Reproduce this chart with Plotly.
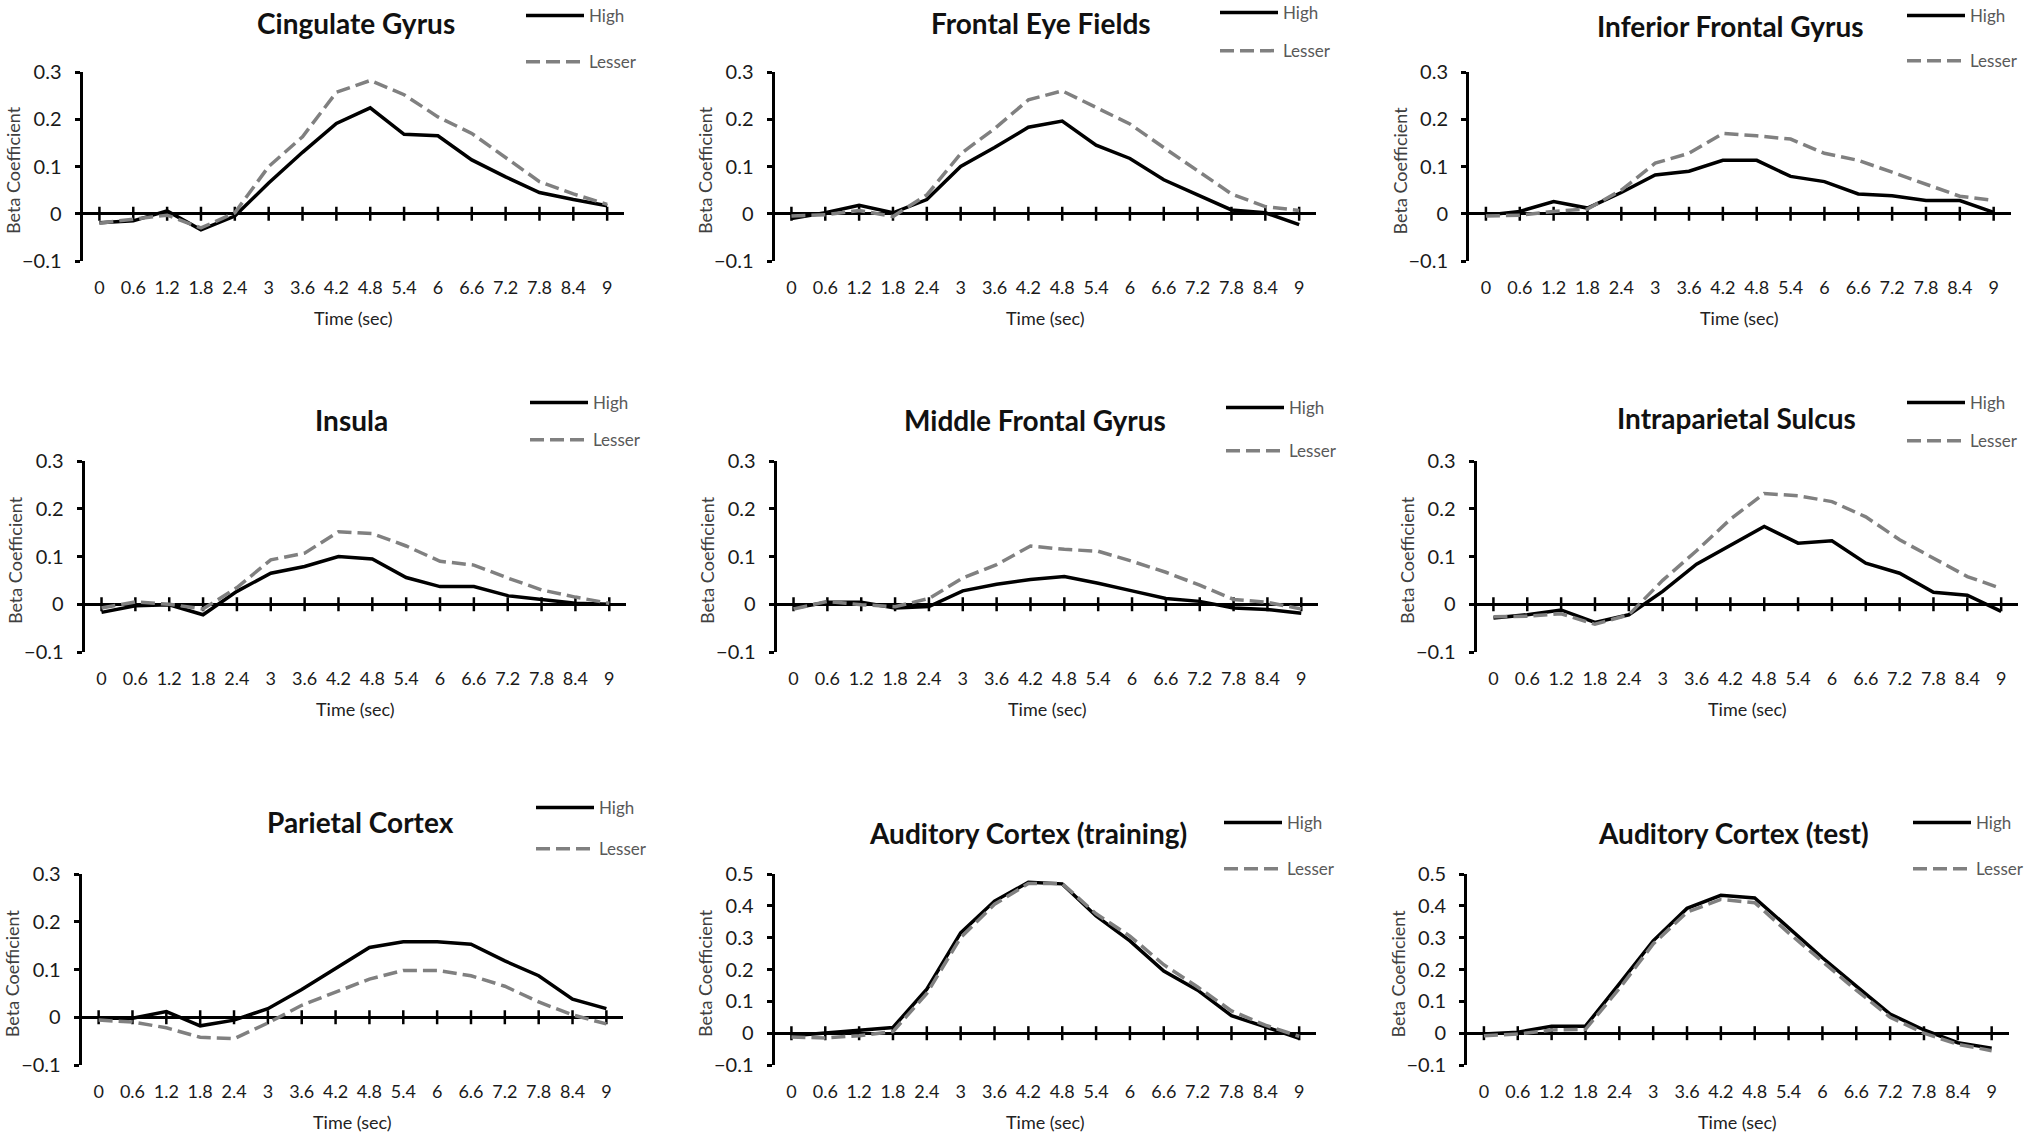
import plotly.graph_objects as go

W, H = 2029, 1135
FONT = "Lato"

# ---------------- data ----------------
times = [0, 0.6, 1.2, 1.8, 2.4, 3, 3.6, 4.2, 4.8, 5.4, 6, 6.6, 7.2, 7.8, 8.4, 9]
time_labels = ["0", "0.6", "1.2", "1.8", "2.4", "3", "3.6", "4.2", "4.8",
               "5.4", "6", "6.6", "7.2", "7.8", "8.4", "9"]
series_names = ["High", "Lesser"]

titles = ["Cingulate Gyrus", "Frontal Eye Fields", "Inferior Frontal Gyrus",
          "Insula", "Middle Frontal Gyrus", "Intraparietal Sulcus",
          "Parietal Cortex", "Auditory Cortex (training)", "Auditory Cortex (test)"]

high_cingulate = [-0.019, -0.015, 0.006, -0.034, -0.005, 0.065, 0.13, 0.191, 0.224,
                  0.168, 0.165, 0.114, 0.078, 0.045, 0.03, 0.017]
lesser_cingulate = [-0.02, -0.012, -0.003, -0.03, 0.002, 0.1, 0.163, 0.257, 0.282,
                    0.252, 0.205, 0.17, 0.118, 0.068, 0.042, 0.02]

high_fef = [-0.01, 0.002, 0.018, 0.002, 0.03, 0.1, 0.14, 0.183, 0.196,
            0.145, 0.117, 0.072, 0.04, 0.008, 0.002, -0.023]
lesser_fef = [-0.005, -0.002, 0.007, -0.006, 0.04, 0.127, 0.18, 0.241, 0.26,
              0.225, 0.19, 0.14, 0.09, 0.042, 0.015, 0.007]

high_ifg = [-0.003, 0.005, 0.026, 0.012, 0.045, 0.082, 0.09, 0.113, 0.113,
            0.079, 0.068, 0.042, 0.038, 0.028, 0.028, 0.003]
lesser_ifg = [-0.005, -0.003, 0.005, 0.01, 0.05, 0.107, 0.128, 0.17, 0.165,
              0.158, 0.128, 0.113, 0.088, 0.062, 0.037, 0.028]

high_insula = [-0.017, -0.003, -0.001, -0.022, 0.027, 0.065, 0.079, 0.1, 0.095,
               0.056, 0.037, 0.037, 0.018, 0.01, 0.002, 0.0]
lesser_insula = [-0.008, 0.005, 0.0, -0.01, 0.035, 0.093, 0.107, 0.152, 0.148,
                 0.122, 0.09, 0.082, 0.055, 0.03, 0.015, 0.002]

high_mfg = [-0.008, 0.004, 0.004, -0.008, -0.005, 0.028, 0.042, 0.052, 0.058,
            0.044, 0.028, 0.012, 0.006, -0.008, -0.011, -0.019]
lesser_mfg = [-0.01, 0.006, -0.001, -0.005, 0.012, 0.055, 0.083, 0.122, 0.115,
              0.111, 0.09, 0.067, 0.04, 0.01, 0.004, -0.01]

high_ips = [-0.029, -0.022, -0.012, -0.038, -0.022, 0.027, 0.084, 0.123, 0.163,
            0.128, 0.133, 0.086, 0.065, 0.025, 0.019, -0.015]
lesser_ips = [-0.026, -0.025, -0.02, -0.042, -0.022, 0.05, 0.112, 0.178, 0.232,
              0.227, 0.215, 0.183, 0.135, 0.097, 0.058, 0.033]

high_parietal = [-0.002, -0.002, 0.012, -0.018, -0.006, 0.018, 0.058, 0.102, 0.146,
                 0.158, 0.158, 0.153, 0.118, 0.087, 0.038, 0.018]
lesser_parietal = [-0.006, -0.01, -0.022, -0.042, -0.045, -0.012, 0.025, 0.052, 0.08,
                   0.098, 0.098, 0.087, 0.065, 0.032, 0.005, -0.014]

high_aud_train = [-0.008, 0.0, 0.01, 0.018, 0.138, 0.315, 0.415, 0.474, 0.469,
                  0.368, 0.29, 0.195, 0.135, 0.055, 0.02, -0.016]
lesser_aud_train = [-0.012, -0.015, -0.008, 0.005, 0.125, 0.3, 0.405, 0.47, 0.47,
                    0.375, 0.305, 0.215, 0.145, 0.07, 0.025, -0.01]

high_aud_test = [-0.003, 0.003, 0.022, 0.022, 0.155, 0.29, 0.392, 0.433, 0.425,
                 0.33, 0.237, 0.148, 0.06, 0.01, -0.03, -0.047]
lesser_aud_test = [-0.008, -0.003, 0.01, 0.012, 0.14, 0.28, 0.38, 0.42, 0.41,
                   0.315, 0.225, 0.135, 0.05, 0.0, -0.035, -0.055]

high_series = [high_cingulate, high_fef, high_ifg, high_insula, high_mfg, high_ips,
               high_parietal, high_aud_train, high_aud_test]
lesser_series = [lesser_cingulate, lesser_fef, lesser_ifg, lesser_insula, lesser_mfg,
                 lesser_ips, lesser_parietal, lesser_aud_train, lesser_aud_test]
y_max = [0.3, 0.3, 0.3, 0.3, 0.3, 0.3, 0.3, 0.5, 0.5]
y_min = -0.1

# ---------------- layout geometry (pixels) ----------------
PLOT_W = 541.6
panel_left = [82.5, 774.5, 1469, 84.6, 776.6, 1476.5, 81.7, 774.5, 1467]
row_top = [72, 461, 874]
row_bot = [261, 652, 1065]
title_pos = [(356, 23), (1041, 23), (1730, 26), (351, 420), (1035, 420), (1736, 418),
             (360, 822), (1028, 833), (1733, 833)]
legend_pos = [(527, 15, 63), (1221, 12, 52), (1908, 15, 62), (531, 402, 441),
              (1227, 407, 452), (1908, 402, 442), (537, 807, 850), (1225, 822, 870),
              (1914, 822, 870)]

HIGH_COLOR = "#000000"
LESSER_COLOR = "#808080"

fig = go.Figure()
layout = dict(width=W, height=H,
              margin=dict(l=0, r=0, t=0, b=0, pad=0, autoexpand=False),
              paper_bgcolor="white", plot_bgcolor="white", showlegend=True,
              font=dict(family=FONT, color="#222222"))
annotations = []


def px(x):
    return x / W


def py(y):
    return 1 - y / H


for i in range(9):
    n = i + 1
    sfx = "" if n == 1 else str(n)
    xa, ya = "x" + sfx, "y" + sfx
    leg = "legend" + sfx
    row = i // 3
    l = panel_left[i]
    t, b = row_top[row], row_bot[row]

    # tick marks crossing the zero line
    fig.add_trace(go.Scatter(
        x=times, y=[0] * len(times), xaxis=xa, yaxis=ya, mode="markers",
        marker=dict(symbol="line-ns", size=10, line=dict(width=2.5, color="black")),
        showlegend=False, hoverinfo="skip", legend=leg, legendgroup="z"))
    fig.add_trace(go.Scatter(
        x=times, y=high_series[i], xaxis=xa, yaxis=ya, mode="lines",
        name=series_names[0], legend=leg, legendgroup="h",
        line=dict(color=HIGH_COLOR, width=3.5)))
    fig.add_trace(go.Scatter(
        x=times, y=lesser_series[i], xaxis=xa, yaxis=ya, mode="lines",
        name=series_names[1], legend=leg, legendgroup="l",
        line=dict(color=LESSER_COLOR, width=3.5, dash="14px,6px")))

    layout["xaxis" + sfx] = dict(
        domain=[px(l), px(l + PLOT_W)], anchor=ya, range=[-0.3, 9.3],
        tickmode="array", tickvals=times, ticktext=time_labels,
        showgrid=False, zeroline=False, showline=False, ticks="",
        ticklabelstandoff=14, tickfont=dict(family=FONT, size=18, color="#1a1a1a"),
        fixedrange=True)
    layout["yaxis" + sfx] = dict(
        domain=[py(b), py(t)], anchor=xa, range=[y_min, y_max[i]],
        tick0=0, dtick=0.1, showgrid=False,
        showline=True, linewidth=3, linecolor="black",
        ticks="outside", ticklen=5, tickwidth=2.5, tickcolor="black",
        zeroline=True, zerolinewidth=3, zerolinecolor="black",
        ticklabelstandoff=9, tickfont=dict(family=FONT, size=20, color="#1a1a1a"),
        fixedrange=True)

    lx, hy, ly = legend_pos[i]
    layout[leg] = dict(
        x=px(lx - 6), y=py(hy - 17), xanchor="left", yanchor="top",
        bgcolor="rgba(0,0,0,0)", borderwidth=0, itemwidth=58,
        tracegroupgap=max(ly - hy - 27, 0), traceorder="grouped",
        font=dict(family=FONT, size=17, color="#595959"))

    tx, ty = title_pos[i]
    annotations.append(dict(
        text="<b>" + titles[i] + "</b>", x=px(tx), y=py(ty), xref="paper", yref="paper",
        xanchor="center", yanchor="middle", showarrow=False,
        font=dict(family=FONT, size=28, color="#111111")))
    annotations.append(dict(
        text="Beta Coefficient", x=px(l - 70), y=py((t + b) / 2 + 4), xref="paper",
        yref="paper", xanchor="center", yanchor="middle", textangle=-90,
        showarrow=False, font=dict(family=FONT, size=18, color="#404040")))
    annotations.append(dict(
        text="Time (sec)", x=px(l + PLOT_W / 2), y=py(b + 57), xref="paper",
        yref="paper", xanchor="center", yanchor="middle", showarrow=False,
        font=dict(family=FONT, size=18, color="#222222")))

layout["annotations"] = annotations
fig.update_layout(**layout)
fig.write_html("out.html",
               config={"displayModeBar": False},
               post_script="document.body.style.margin='0px';"
                           "document.body.style.overflow='hidden';")
